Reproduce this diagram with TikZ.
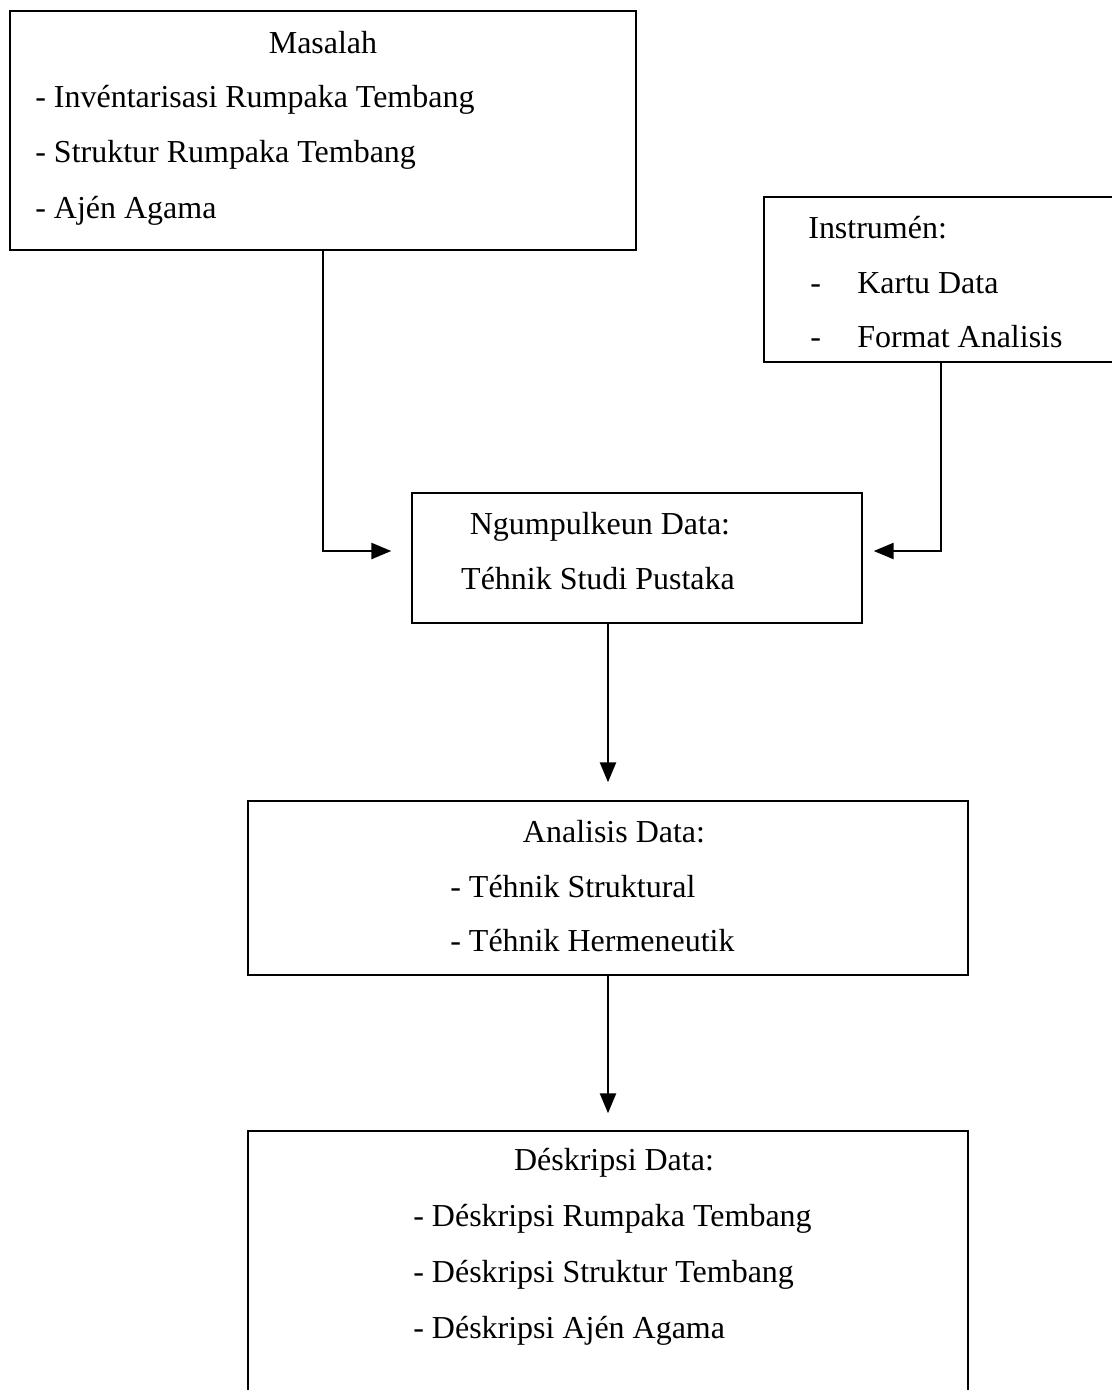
\documentclass[tikz,border=0pt]{standalone}
\usepackage{fontspec}
\setmainfont{Liberation Serif}
\usetikzlibrary{arrows.meta, positioning}

\begin{document}
\begin{tikzpicture}[
            x = 0.02cm, y = -0.02cm, % one unit is one pixel of the layout
            > = {Triangle[length=0.4cm, width=0.32cm]}, % arrow head style
            box/.style = {draw = black, line width = 0.85pt, rectangle, inner sep = 0pt},
            txt/.style = {inner sep = 0pt, font = \fontsize{18.2}{22}\selectfont,
                          text height = 12pt, text depth = 0pt},
            flow/.style = {->, line width = 1.4pt}
        ]
        \useasboundingbox (0,0) rectangle (1112,1390);

        % boxes
        \node[box, minimum width = 12.52cm, minimum height = 4.78cm] (masalah) at (323,130.5) {};
        \node[box, minimum width = 7.08cm, minimum height = 3.3cm] (instrumen) at (941,279.5) {};
        \node[box, minimum width = 9cm, minimum height = 2.6cm] (ngumpul) at (637,558) {};
        \node[box, minimum width = 14.4cm, minimum height = 3.48cm] (analisis) at (608,888) {};
        \node[box, minimum width = 14.4cm, minimum height = 5.38cm] (deskripsi) at (608,1265.5) {};

        % texts
        \node[txt] (masalahT) at (323,43) {Masalah};
        \node[txt, anchor = west] (masalah1) at (35,97) {- Invéntarisasi Rumpaka Tembang};
        \node[txt, anchor = west] (masalah2) at (35,152) {- Struktur Rumpaka Tembang};
        \node[txt, anchor = west] (masalah3) at (35,208) {- Ajén Agama};

        \node[txt, anchor = west] (instrumenT) at (808,228) {Instrumén:};
        \node[txt, anchor = west] (instrumen1) at (810,283) {\makebox[0.94cm][l]{-}Kartu Data};
        \node[txt, anchor = west] (instrumen2) at (810,337) {\makebox[0.94cm][l]{-}Format Analisis};

        \node[txt] (ngumpulT) at (600,524) {Ngumpulkeun Data:};
        \node[txt] (ngumpul1) at (598,579) {Téhnik Studi Pustaka};

        \node[txt] (analisisT) at (614,832) {Analisis Data:};
        \node[txt, anchor = west] (analisis1) at (450,887) {- Téhnik Struktural};
        \node[txt, anchor = west] (analisis2) at (450,941) {- Téhnik Hermeneutik};

        \node[txt] (deskripsiT) at (614,1160) {Déskripsi Data:};
        \node[txt, anchor = west] (deskripsi1) at (413,1216) {- Déskripsi Rumpaka Tembang};
        \node[txt, anchor = west] (deskripsi2) at (413,1272) {- Déskripsi Struktur Tembang};
        \node[txt, anchor = west] (deskripsi3) at (413,1328) {- Déskripsi Ajén Agama};

        % connectors
        \draw[flow, shorten > = 0.4cm] (masalah.south) |- ([yshift = 0.14cm]ngumpul.west);
        \draw[flow, shorten > = 0.22cm] (instrumen.south) |- ([yshift = 0.14cm]ngumpul.east);
        \draw[flow, shorten > = 0.36cm] (analisis.north |- ngumpul.south) -- (analisis.north);
        \draw[flow, shorten > = 0.34cm] (analisis.south) -- (deskripsi.north);
    \end{tikzpicture}
\end{document}
